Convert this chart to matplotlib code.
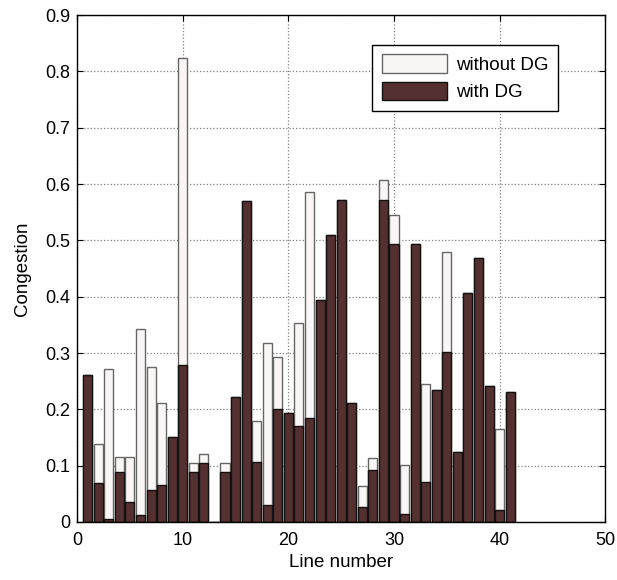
import matplotlib.pyplot as plt
import numpy as np

plt.rcParams["font.family"] = ["Liberation Sans", "DejaVu Sans"]

lines = np.arange(1, 42)
without_dg = [0.261, 0.138, 0.271, 0.116, 0.116, 0.343, 0.275, 0.211, 0.151, 0.824,
              0.105, 0.121, 0.0, 0.105, 0.222, 0.570, 0.179, 0.318, 0.293, 0.193,
              0.354, 0.586, 0.395, 0.510, 0.572, 0.212, 0.064, 0.114, 0.607, 0.545,
              0.102, 0.493, 0.245, 0.234, 0.480, 0.125, 0.407, 0.469, 0.242, 0.166,
              0.231]
with_dg = [0.261, 0.070, 0.005, 0.089, 0.035, 0.013, 0.056, 0.065, 0.151, 0.278,
           0.089, 0.105, 0.0, 0.089, 0.222, 0.570, 0.106, 0.030, 0.201, 0.193,
           0.171, 0.185, 0.395, 0.510, 0.572, 0.212, 0.026, 0.092, 0.572, 0.493,
           0.015, 0.493, 0.071, 0.234, 0.302, 0.125, 0.407, 0.469, 0.242, 0.021,
           0.231]

fig = plt.figure(figsize=(6.17, 5.8), dpi=100)
ax = fig.add_axes([0.125, 0.1, 0.856, 0.874])

ax.bar(lines, without_dg, width=0.86, color="#fbf6f6", edgecolor="#666666",
       linewidth=1.0, label="without DG", zorder=2)
ax.bar(lines, with_dg, width=0.86, color="#553030", edgecolor="#111111",
       linewidth=1.0, label="with DG", zorder=3)

ax.set_xlim(0, 50)
ax.set_ylim(0, 0.9)
ax.set_xticks(np.arange(0, 51, 10))
ax.set_yticks(np.arange(0, 0.91, 0.1))
ax.set_yticklabels(["0", "0.1", "0.2", "0.3", "0.4", "0.5", "0.6", "0.7", "0.8", "0.9"])
ax.tick_params(direction="in", top=True, right=True, length=4, labelsize=13)
ax.tick_params(axis="x", pad=7)
ax.tick_params(axis="y", pad=5)
ax.grid(True, linestyle=":", color="#808080", linewidth=0.9, zorder=0)
ax.set_axisbelow(True)
for s in ax.spines.values():
    s.set_linewidth(1.0)
    s.set_zorder(5)

ax.set_xlabel("Line number", fontsize=13.5, labelpad=4)
ax.set_ylabel("Congestion", fontsize=13.5, labelpad=10)

leg = ax.legend(loc="upper left", bbox_to_anchor=(0.559, 0.941), fontsize=13.5,
                fancybox=False, edgecolor="black", framealpha=1,
                handlelength=3.5, handleheight=1.15, borderpad=0.5,
                labelspacing=0.4, handletextpad=0.45, borderaxespad=0)
leg.get_frame().set_linewidth(1.0)

fig.savefig("out.png", dpi=100)
